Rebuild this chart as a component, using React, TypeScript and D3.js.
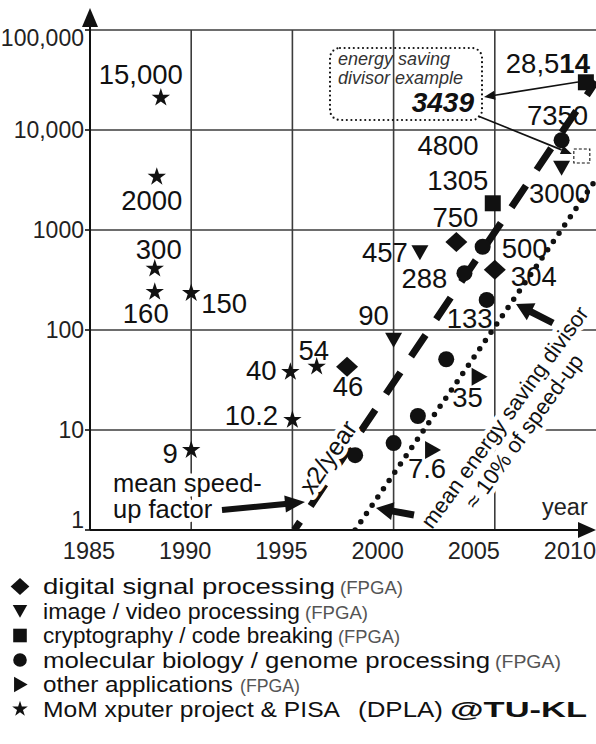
import React from "react";
import * as d3 from "d3";

// ---------------- data ----------------
const yearTicks = [1985, 1990, 1995, 2000, 2005, 2010];
const yearTickLabels = ["1985", "1990", "1995", "2000", "2005", "2010"];
const speedTicks = [1, 10, 100, 1000, 10000, 100000];
const speedTickLabels = ["1", "10", "100", "1000", "10,000", "100,000"];

const dspYears = [1997.7, 2003.1, 2005.0];
const dspValues = [43, 760, 400];
const dspLabels = ["46", "750", "304"];

const imageYears = [2000.0, 2001.3, 2008.3];
const imageValues = [80, 600, 4200];
const imageLabels = ["90", "457", "3000"];

const cryptoYears = [2004.9, 2009.5];
const cryptoValues = [1850, 30000];
const cryptoLabels = ["1305", "28,514"];

const bioYears = [1998.1, 2000.0, 2001.2, 2002.6, 2003.5, 2004.6, 2004.4, 2008.3];
const bioValues = [5.6, 7.4, 13.8, 51, 370, 200, 680, 7900];
const bioLabels = ["", "", "", "", "288", "133", "500", "7350"];

const otherYears = [2001.9, 2004.2];
const otherValues = [6.3, 34];
const otherLabels = ["7.6", "35"];

const momYears = [1988.5, 1988.3, 1988.2, 1988.2, 1990.0, 1990.0, 1995.0, 1994.9, 1996.2];
const momValues = [21000, 3400, 410, 240, 234, 6.3, 12.6, 38, 43];
const momLabels = ["15,000", "2000", "300", "160", "150", "9", "10.2", "40", "54"];

const speedupTrendYears = [1995.1, 2010];
const speedupTrendValues = [1, 30500];
const energyTrendYears = [1998.1, 2010];
const energyTrendValues = [1, 3200];

const energyExampleYear = 2009.3;
const energyExampleValue = 5500;

const legendNames = [
  "digital signal processing",
  "image / video processing",
  "cryptography / code breaking",
  "molecular biology / genome processing",
  "other applications",
  "MoM xputer project & PISA",
];
const legendTags = ["(FPGA)", "(FPGA)", "(FPGA)", "(FPGA)", "(FPGA)", "(DPLA)"];
const legendExtra = "@TU-KL";

// ---------------- styles / layout ----------------
const FONT = "'Liberation Sans', Arial, Helvetica, sans-serif";
const INK = "#111";
const GRID = "#3c3c3c";

const dspLabelOffsets = [[1, 19], [-1, -25], [39, 6]];
const imageLabelOffsets = [[-20, -25], [-35, 0], [-2, 25]];
const cryptoLabelOffsets = [[-35, -23], [-38, -19]];
const bioLabelOffsets = [[0, 0], [0, 0], [0, 0], [0, 0], [-40, 5], [-17, 18], [42, 1], [-4, -25]];
const otherLabelOffsets = [[-5, 18], [-11, 20]];
const momLabelOffsets = [[-20, -24], [-5, 23], [4, -20], [-9, 21], [33, 10], [-21, 3], [-41, -5], [-29, -2], [-3, -17]];

const legendNameWidths = [292, 257, 290, 447, 190, 297];
const legendTagX = [340, 305, 338, 495, 240, 358];
const legendTagWidths = [63, 63, 62, 66, 60, 85];
const legendKinds = ["diamond", "triDown", "square", "circle", "triRight", "star"];

const x = d3.scaleLinear().domain([1985, 2010]).range([90, 596]);
const y = d3.scaleLog().domain([1, 100000]).range([530, 30]);
const xLabelPos = d3.scaleLinear().domain([1985, 2010]).range([89, 570]);

function markerPath(kind: string, s = 1): string {
  switch (kind) {
    case "diamond":
      return `M0,${-10 * s}L${11 * s},0L0,${10 * s}L${-11 * s},0Z`;
    case "triDown":
      return `M${-8.5 * s},${-7 * s}L${8.5 * s},${-7 * s}L0,${8 * s}Z`;
    case "square":
      return `M${-8 * s},${-8 * s}h${16 * s}v${16 * s}h${-16 * s}Z`;
    case "circle":
      return d3.symbol(d3.symbolCircle, Math.PI * 64 * s * s)() as string;
    case "triRight":
      return `M${-7 * s},${-9 * s}L${9 * s},0L${-7 * s},${9 * s}Z`;
    case "star":
      return d3.symbol(d3.symbolStar, 105 * s * s)() as string;
  }
  return "";
}

function thickArrow(x1: number, y1: number, x2: number, y2: number, sw: number, hl: number, hw: number) {
  const dx = x2 - x1, dy = y2 - y1;
  const L = Math.hypot(dx, dy);
  const ux = dx / L, uy = dy / L;
  const nx = -uy, ny = ux;
  const bx = x2 - ux * hl, by = y2 - uy * hl;
  const p = [
    [x1 + nx * sw / 2, y1 + ny * sw / 2],
    [bx + nx * sw / 2, by + ny * sw / 2],
    [bx + nx * hw / 2, by + ny * hw / 2],
    [x2, y2],
    [bx - nx * hw / 2, by - ny * hw / 2],
    [bx - nx * sw / 2, by - ny * sw / 2],
    [x1 - nx * sw / 2, y1 - ny * sw / 2],
  ];
  return "M" + p.map((q) => q.join(",")).join("L") + "Z";
}

function thinArrow(x1: number, y1: number, x2: number, y2: number) {
  const dx = x2 - x1, dy = y2 - y1;
  const L = Math.hypot(dx, dy);
  const ux = dx / L, uy = dy / L;
  const nx = -uy, ny = ux;
  const hl = 11, hw = 9;
  const bx = x2 - ux * hl, by = y2 - uy * hl;
  return (
    <g>
      <line x1={x1} y1={y1} x2={bx} y2={by} stroke={INK} strokeWidth={1.7} />
      <path d={`M${x2},${y2}L${bx + nx * hw / 2},${by + ny * hw / 2}L${bx - nx * hw / 2},${by - ny * hw / 2}Z`} fill={INK} />
    </g>
  );
}

type Series = { kind: string; years: number[]; values: number[]; labels: string[]; offsets: number[][] };
const series: Series[] = [
  { kind: "diamond", years: dspYears, values: dspValues, labels: dspLabels, offsets: dspLabelOffsets },
  { kind: "triDown", years: imageYears, values: imageValues, labels: imageLabels, offsets: imageLabelOffsets },
  { kind: "square", years: cryptoYears, values: cryptoValues, labels: cryptoLabels, offsets: cryptoLabelOffsets },
  { kind: "circle", years: bioYears, values: bioValues, labels: bioLabels, offsets: bioLabelOffsets },
  { kind: "triRight", years: otherYears, values: otherValues, labels: otherLabels, offsets: otherLabelOffsets },
  { kind: "star", years: momYears, values: momValues, labels: momLabels, offsets: momLabelOffsets },
];

const halo = { paintOrder: "stroke", stroke: "#fff", strokeWidth: 9, strokeLinejoin: "round" as const };

export default function App() {
  const trend = (ys: number[], vs: number[]) =>
    d3.line<number>().x((d) => x(d)).y((d, i) => y(vs[i]))(ys) as string;

  const [x0, x1] = x.range();
  const [yBot, yTop] = y.range();

  return (
    <svg width={596} height={744} style={{ position: "absolute", left: 0, top: 0, background: "#fff" }} fontFamily={FONT}>
      <defs>
        <clipPath id="plot">
          <rect x={x0} y={yTop} width={x1 - x0} height={yBot - yTop} />
        </clipPath>
      </defs>
      <rect width={596} height={744} fill="#fff" />

      {/* grid */}
      {yearTicks.filter((t) => t > 1985 && t < 2010).map((t) => (
        <line key={"gx" + t} x1={x(t)} x2={x(t)} y1={yTop} y2={yBot} stroke={GRID} strokeWidth={1.6} />
      ))}
      {speedTicks.filter((t) => t > 1).map((t) => (
        <line key={"gy" + t} x1={x0} x2={x1} y1={y(t)} y2={y(t)} stroke={GRID} strokeWidth={1.6} />
      ))}

      {/* trend lines */}
      <g clipPath="url(#plot)">
        <path d={trend(speedupTrendYears, speedupTrendValues)} stroke={INK} strokeWidth={7} strokeDasharray="26 19" strokeDashoffset={16} fill="none" />
        <path d={trend(energyTrendYears, energyTrendValues)} stroke={INK} strokeWidth={5.5} strokeDasharray="0 10" strokeLinecap="round" fill="none" />
      </g>

      {/* rotated annotations */}
      <text transform="translate(328,457) rotate(-56)" textAnchor="middle" dy="0.35em" fontSize={25} fill={INK} style={halo}>
        x2/year
      </text>
      <text transform="translate(514,424) rotate(-54)" textAnchor="middle" fontSize={22} fill={INK} style={halo}>
        <tspan x={0} y={-4}>mean energy saving divisor</tspan>
        <tspan x={0} y={20}>≈ 10% of speed-up</tspan>
      </text>

      {/* axes */}
      <line x1={x0} x2={x0} y1={yBot} y2={14} stroke={INK} strokeWidth={2} />
      <path d={`M${x0},8L${x0 + 8},27L${x0 - 8},27Z`} fill={INK} />
      <line x1={x0} x2={582} y1={yBot} y2={yBot} stroke={INK} strokeWidth={2} />
      <path d={`M596,${yBot}L578,${yBot - 8}L578,${yBot + 8}Z`} fill={INK} />
      {speedTicks.map((t) => (
        <line key={"ty" + t} x1={x0 - 5} x2={x0} y1={y(t)} y2={y(t)} stroke={INK} strokeWidth={1.6} />
      ))}
      {speedTicks.map((t, i) => (
        <text key={"ly" + t} x={84} y={Math.min(Math.max(y(t), 38), 520)} dy="0.35em" textAnchor="end" fontSize={23} fill="#222">
          {speedTickLabels[i]}
        </text>
      ))}
      {yearTicks.map((t, i) => (
        <text key={"lx" + t} x={xLabelPos(t)} y={559} textAnchor="middle" fontSize={23.5} fill="#222">
          {yearTickLabels[i]}
        </text>
      ))}
      <text x={542} y={515} fontSize={23.5} fill="#222" style={halo}>year</text>

      {/* markers */}
      {series.map((s) =>
        s.years.map((yr, i) => (
          <path key={s.kind + i} d={markerPath(s.kind)} transform={`translate(${x(yr)},${y(s.values[i])})`} fill={INK} />
        ))
      )}
      {/* point labels */}
      {series.map((s) =>
        s.years.map((yr, i) =>
          s.labels[i] ? (
            <text key={"t" + s.kind + i} x={x(yr) + s.offsets[i][0]} y={y(s.values[i]) + s.offsets[i][1]} dy="0.36em"
              textAnchor="middle" fontSize={27.5} fill={INK}>
              {s.labels[i] === "28,514" ? (
                <>
                  <tspan>28,5</tspan>
                  <tspan fontWeight="bold">14</tspan>
                </>
              ) : (
                s.labels[i]
              )}
            </text>
          ) : null
        )
      )}
      <text x={448} y={145} dy="0.36em" textAnchor="middle" fontSize={27.5} fill={INK}>4800</text>

      {/* energy-saving example box */}
      <rect x={330} y={48} width={152} height={72} rx={10} fill="none" stroke={INK} strokeWidth={2.2} strokeDasharray="0 4.6" strokeLinecap="round" />
      <text x={338} y={65} fontSize={18} fontStyle="italic" fill="#333">energy saving</text>
      <text x={338} y={84} fontSize={18} fontStyle="italic" fill="#333">divisor example</text>
      <text x={474} y={112} textAnchor="end" fontSize={28} fontStyle="italic" fontWeight="bold" fill={INK}>3439</text>
      <rect x={x(energyExampleYear) - 8} y={y(energyExampleValue) - 7} width={16} height={14} fill="#fff" stroke={INK} strokeWidth={1.1} strokeDasharray="3 2" />
      {thinArrow(578, 82, 484, 97)}
      {thinArrow(478, 116, x(energyExampleYear) - 10, y(energyExampleValue) - 2)}

      {/* mean speed-up factor */}
      <text x={113} y={492} fontSize={25.5} fill={INK} style={halo}>mean speed-</text>
      <text x={113} y={518} fontSize={25.5} fill={INK} style={halo}>up factor</text>
      <path d={thickArrow(222, 510, 305, 502, 6, 20, 17)} fill={INK} />
      <path d={thickArrow(414, 515, 376, 508, 7, 17, 18)} fill={INK} />
      <path d={thickArrow(553, 323, 516, 304, 7, 17, 19)} fill={INK} />

      {/* legend */}
      {legendNames.map((name, i) => {
        const base = 594 + i * 24.5;
        return (
          <g key={"lg" + i}>
            <path d={markerPath(legendKinds[i], 0.85)} transform={`translate(20,${base - 7.5})`} fill={INK} />
            <text x={43} y={base} fontSize={22} fill={INK} textLength={legendNameWidths[i]} lengthAdjust="spacingAndGlyphs">
              {name}
            </text>
            <text x={legendTagX[i]} y={base} fontSize={i === 5 ? 22 : 19} fill={i === 5 ? INK : "#555"} textLength={legendTagWidths[i]} lengthAdjust="spacingAndGlyphs">
              {legendTags[i]}
            </text>
            {i === 5 ? (
              <text x={450} y={base} fontSize={22} fontWeight="bold" fill={INK} textLength={137} lengthAdjust="spacingAndGlyphs">
                {legendExtra}
              </text>
            ) : null}
          </g>
        );
      })}
    </svg>
  );
}
